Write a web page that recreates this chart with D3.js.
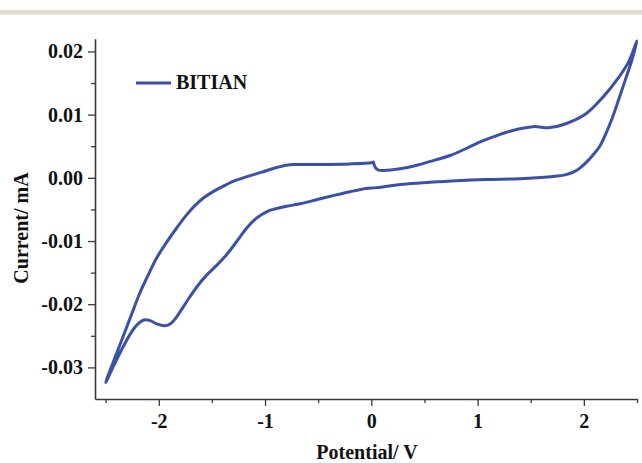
<!DOCTYPE html>
<html>
<head>
<meta charset="utf-8">
<script src="https://cdn.jsdelivr.net/npm/d3@7"></script>
<style>
  html, body { margin: 0; padding: 0; background: #ffffff; }
  svg { display: block; }
  text { font-family: "Liberation Serif", "Times New Roman", serif; font-weight: bold; }
</style>
</head>
<body>
<script>
// ---- data ----
const seriesName = "BITIAN";
// one continuous CV loop: forward sweep (0 -> 2.5 V), reverse sweep (2.5 -> -2.5 V), return sweep (-2.5 -> 0 V)
const potential = [
  0.02, 0.035, 0.06, 0.11, 0.27, 0.42, 0.60, 0.74, 0.92, 1.04, 1.14, 1.33, 1.52, 1.68, 1.83, 2.02, 2.18, 2.33, 2.42, 2.50,
  2.45, 2.39, 2.33, 2.27, 2.21, 2.15, 2.08, 2.02, 1.96, 1.90, 1.83, 1.71, 1.55, 1.39, 1.08, 0.80, 0.55, 0.30, 0.05, -0.05, -0.20, -0.33, -0.50, -0.67, -0.80, -0.90,
  -0.96, -1.03, -1.11, -1.18, -1.25, -1.33, -1.40, -1.47, -1.55, -1.63, -1.71, -1.78, -1.84, -1.89, -1.94, -2.02, -2.08, -2.14, -2.20, -2.26, -2.34, -2.42, -2.50,
  -2.42, -2.34, -2.26, -2.18, -2.10, -2.02, -1.93, -1.83, -1.74, -1.66, -1.58, -1.50, -1.40, -1.29, -1.17, -1.03, -0.90, -0.80, -0.72, -0.52, -0.20, 0.00, 0.02
];
const current = [
  0.0025, 0.0017, 0.00128, 0.00116, 0.00143, 0.00195, 0.0028, 0.00353, 0.00485, 0.0058, 0.00643, 0.00750, 0.00810, 0.00795, 0.00856, 0.01014, 0.01277, 0.01594, 0.0183, 0.02165,
  0.0185, 0.0155, 0.0125, 0.0096, 0.0071, 0.0050, 0.0035, 0.0024, 0.0015, 0.0009, 0.0005, 0.0002, 0.0000, -0.00016, -0.00027, -0.00045, -0.0007, -0.0010, -0.00155, -0.0017, -0.0022, -0.0027, -0.0034, -0.0041, -0.0045, -0.0049,
  -0.0052, -0.0058, -0.0068, -0.0081, -0.0097, -0.0115, -0.0129, -0.0141, -0.0154, -0.0170, -0.0189, -0.0207, -0.0222, -0.0231, -0.0234, -0.0231, -0.0226, -0.0225, -0.0232, -0.0245, -0.0269, -0.0296, -0.0324,
  -0.0288, -0.0253, -0.0218, -0.0183, -0.0154, -0.0127, -0.0103, -0.0079, -0.0059, -0.0044, -0.0032, -0.0023, -0.0014, -0.0005, 0.0002, 0.0009, 0.0016, 0.0020, 0.0021, 0.0021, 0.0022, 0.0024, 0.0025
];
const xMajorTicks = [-2, -1, 0, 1, 2];
const xMinorTicks = [-2.5, -1.5, -0.5, 0.5, 1.5, 2.5];
const yMajorTicks = [0.02, 0.01, 0.00, -0.01, -0.02, -0.03];
const yMinorTicks = [0.015, 0.005, -0.005, -0.015, -0.025];
const xTitle = "Potential/ V";
const yTitle = "Current/ mA";

// ---- layout ----
const W = 642, H = 463;
const svg = d3.select("body").append("svg").attr("width", W).attr("height", H);

// top band
svg.append("rect").attr("x", 0).attr("y", 10).attr("width", W).attr("height", 4.7).attr("fill", "#e2ddce");

const x = d3.scaleLinear().domain([-2.6, 2.5]).range([95, 637]);
const y = d3.scaleLinear().domain([-0.035, 0.022]).range([399, 38.8]);

const axisColor = "#3a3a3a";
const fontSize = 20;

// x axis
const gx = svg.append("g").attr("transform", `translate(0,${y.range()[0]})`);
gx.call(d3.axisBottom(x).tickValues(xMajorTicks).tickSize(7).tickSizeOuter(0).tickPadding(8).tickFormat(d => String(d)));
const gxm = svg.append("g").attr("transform", `translate(0,${y.range()[0]})`);
gxm.call(d3.axisBottom(x).tickValues(xMinorTicks).tickSize(4).tickSizeOuter(0).tickFormat(""));
gxm.select(".domain").remove();

// y axis
const gy = svg.append("g").attr("transform", `translate(${x.range()[0]},0)`);
gy.call(d3.axisLeft(y).tickValues(yMajorTicks).tickSize(7).tickSizeOuter(0).tickPadding(5).tickFormat(d => d.toFixed(2)));
const gym = svg.append("g").attr("transform", `translate(${x.range()[0]},0)`);
gym.call(d3.axisLeft(y).tickValues(yMinorTicks).tickSize(4).tickSizeOuter(0).tickFormat(""));
gym.select(".domain").remove();

[gx, gxm, gy, gym].forEach(g => {
  g.selectAll(".domain").attr("stroke", axisColor).attr("stroke-width", 1.6);
  g.selectAll(".tick line").attr("stroke", axisColor).attr("stroke-width", 1.3);
  g.selectAll(".tick text").attr("fill", "#111").style("font-size", fontSize + "px")
    .style("font-family", '"Liberation Serif", "Times New Roman", serif').style("font-weight", "bold");
});

// titles
svg.append("text").attr("x", 367).attr("y", 458.5).attr("text-anchor", "middle")
  .style("font-size", fontSize + "px").attr("fill", "#111").text(xTitle);
svg.append("text").attr("transform", "translate(28,228) rotate(-90)").attr("text-anchor", "middle")
  .style("font-size", fontSize + "px").attr("fill", "#111").text(yTitle);

// curve
const lineColor = "#3b51a8";
const pts = potential.map((v, i) => [v, current[i]]);
const line = d3.line().x(d => x(d[0])).y(d => y(d[1])).curve(d3.curveCatmullRom.alpha(0.5));
svg.append("path").datum(pts).attr("d", line).attr("fill", "none")
  .attr("stroke", lineColor).attr("stroke-width", 3).attr("stroke-linejoin", "round").attr("stroke-linecap", "round");

// legend
svg.append("line").attr("x1", 136).attr("x2", 171).attr("y1", 83).attr("y2", 83)
  .attr("stroke", lineColor).attr("stroke-width", 3);
svg.append("text").attr("x", 176).attr("y", 89.3).style("font-size", fontSize + "px").attr("fill", "#111").text(seriesName);
</script>
</body>
</html>
